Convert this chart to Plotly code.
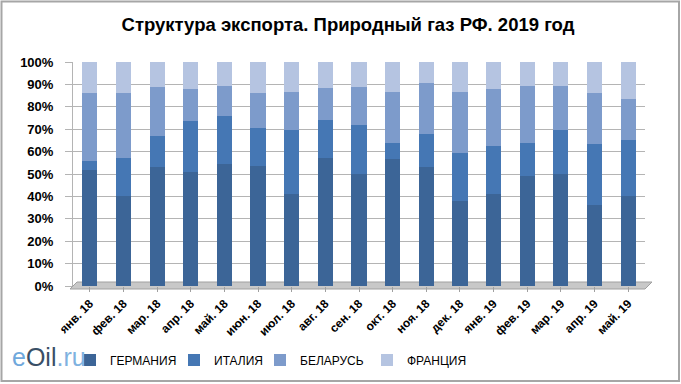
import plotly.graph_objects as go

months = ["янв. 18", "фев. 18", "мар. 18", "апр. 18", "май. 18", "июн. 18", "июл. 18", "авг. 18",
          "сен. 18", "окт. 18", "ноя. 18", "дек. 18", "янв. 19", "фев. 19", "мар. 19", "апр. 19", "май. 19"]

germany = [52, 40, 53, 51, 54.5, 53.5, 41, 57, 50, 56.5, 53, 38, 41, 49, 50, 36, 40]
italy = [4, 17, 14, 22.5, 21.5, 17, 28.5, 17, 22, 7.5, 15, 21.5, 21.5, 15, 19.5, 27.5, 25]
belarus = [30, 29, 22, 14.5, 13.5, 15.5, 17, 14.5, 17, 22.5, 22.5, 27, 25.5, 25.5, 20, 22.5, 18.5]
france = [14, 14, 11, 12, 10.5, 14, 13.5, 11.5, 11, 13.5, 9.5, 13.5, 12, 10.5, 10.5, 14, 16.5]

series = [
    ("ГЕРМАНИЯ", germany, "#3C6597"),
    ("ИТАЛИЯ", italy, "#4577B4"),
    ("БЕЛАРУСЬ", belarus, "#7D9BCB"),
    ("ФРАНЦИЯ", france, "#B5C4E1"),
]

W, H = 681, 384
L, R, T, B = 73, 36, 62, 98
pw, ph = W - L - R, H - T - B

def px(x):
    return (x - L) / pw

def py(y):
    return (H - B - y) / ph

legend_left = [70, 174, 260, 367]
legend_names = ["legend", "legend2", "legend3", "legend4"]

fig = go.Figure()
for (name, vals, color), lg in zip(series, legend_names):
    fig.add_trace(go.Bar(
        x=months, y=vals, name=name, legend=lg, showlegend=True,
        marker=dict(color=color, line=dict(width=0)),
    ))

shapes = [
    # outer frame
    dict(type="rect", xref="paper", yref="paper",
         x0=px(1.5), x1=px(679), y0=py(381), y1=py(1.5),
         line=dict(color="#A6A6A6", width=2), fillcolor="rgba(0,0,0,0)", layer="below"),
    # floor
    dict(type="path", xref="paper", yref="paper",
         path=f"M {px(70)} {py(289)} L {px(645)} {py(289)} L {px(652)} {py(282)} L {px(77)} {py(282)} Z",
         fillcolor="#C8C8C8", line=dict(color="#A0A0A0", width=1), layer="below"),
]

legend_common = dict(orientation="h", yanchor="middle", xanchor="left",
                     font=dict(size=12, family="Arial"), itemwidth=30,
                     bgcolor="rgba(0,0,0,0)")
legends = {}
for lg, lx in zip(legend_names, legend_left):
    legends[lg] = dict(legend_common, x=px(lx), y=py(360))

fig.update_layout(
    width=W, height=H,
    showlegend=True,
    margin=dict(l=L, r=R, t=T, b=B, autoexpand=False),
    paper_bgcolor="white", plot_bgcolor="white",
    barmode="stack", barnorm="percent", bargap=0.55,
    title=dict(text="<b>Структура экспорта. Природный газ РФ. 2019 год</b>",
               x=348 / W, xref="container", xanchor="center", y=1 - 25 / H, yanchor="middle",
               font=dict(family="Arial", size=18.5, color="black")),
    font=dict(family="Arial", color="black"),
    xaxis=dict(tickangle=-45, tickfont=dict(size=12, family="Arial"), automargin=False,
               showgrid=False, showline=False, ticks="outside", ticklen=5, tickcolor="#A0A0A0",
               tickprefix="<b>", ticksuffix="</b>"),
    yaxis=dict(range=[0, 100], dtick=10, ticksuffix="%</b>", tickprefix="<b>", automargin=False,
               tickfont=dict(size=13, family="Arial"),
               showgrid=True, gridcolor="#B4B4B4", gridwidth=1,
               showline=True, linecolor="#B4B4B4", zeroline=False,
               ticks="outside", ticklen=7, tickcolor="#B4B4B4", ticklabelstandoff=9),
    shapes=shapes,
    annotations=[
        dict(xref="paper", yref="paper", x=px(10), y=py(357), xanchor="left", yanchor="middle",
             showarrow=False,
             text="<span style='color:#6FA8DC'>e</span><span style='color:#3A4F66'>Oil</span><span style='color:#7FB2E0'>.ru</span>",
             font=dict(family="Arial", size=25)),
    ],
    **legends,
)

fig.write_html("out.html", config={"displayModeBar": False},
               post_script="document.body.style.margin='0';document.body.style.padding='0';")
